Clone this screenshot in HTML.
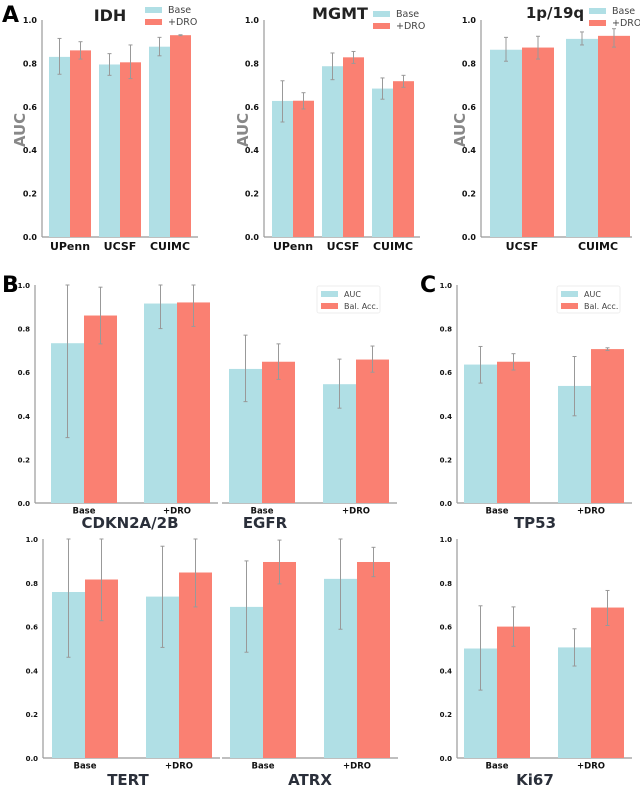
<!DOCTYPE html>
<html><head><meta charset="utf-8"><style>
body{margin:0;background:#fff}
svg{display:block;font-family:"DejaVu Sans","Liberation Sans",sans-serif}
</style></head><body>
<svg id="fig" width="640" height="788" viewBox="0 0 640 788" xmlns="http://www.w3.org/2000/svg"></svg>
<script>
// ---- Data ----
const idhCats=["UPenn","UCSF","CUIMC"];
const idhBase=[0.83,0.795,0.877], idhBaseLo=[0.75,0.745,0.835], idhBaseHi=[0.915,0.845,0.92];
const idhDro=[0.86,0.805,0.93], idhDroLo=[0.82,0.73,0.928], idhDroHi=[0.90,0.885,0.932];
const mgmtCats=["UPenn","UCSF","CUIMC"];
const mgmtBase=[0.627,0.787,0.684], mgmtBaseLo=[0.53,0.725,0.635], mgmtBaseHi=[0.72,0.848,0.733];
const mgmtDro=[0.628,0.828,0.718], mgmtDroLo=[0.59,0.80,0.69], mgmtDroHi=[0.665,0.855,0.745];
const codelCats=["UCSF","CUIMC"];
const codelBase=[0.863,0.913], codelBaseLo=[0.81,0.885], codelBaseHi=[0.92,0.945];
const codelDro=[0.873,0.927], codelDroLo=[0.82,0.875], codelDroHi=[0.925,0.96];
const bCats=["Base","+DRO"];
const cdknAuc=[0.733,0.915], cdknAucLo=[0.30,0.80], cdknAucHi=[1.0,1.0];
const cdknBal=[0.86,0.92], cdknBalLo=[0.73,0.81], cdknBalHi=[0.99,1.0];
const egfrAuc=[0.615,0.545], egfrAucLo=[0.465,0.435], egfrAucHi=[0.77,0.66];
const egfrBal=[0.648,0.658], egfrBalLo=[0.567,0.60], egfrBalHi=[0.73,0.72];
const tp53Auc=[0.635,0.537], tp53AucLo=[0.55,0.40], tp53AucHi=[0.718,0.672];
const tp53Bal=[0.648,0.706], tp53BalLo=[0.61,0.70], tp53BalHi=[0.685,0.712];
const tertAuc=[0.758,0.737], tertAucLo=[0.46,0.505], tertAucHi=[1.0,0.967];
const tertBal=[0.815,0.847], tertBalLo=[0.627,0.69], tertBalHi=[1.0,1.0];
const atrxAuc=[0.69,0.818], atrxAucLo=[0.483,0.588], atrxAucHi=[0.90,1.0];
const atrxBal=[0.895,0.895], atrxBalLo=[0.795,0.828], atrxBalHi=[0.995,0.962];
const ki67Auc=[0.50,0.505], ki67AucLo=[0.31,0.42], ki67AucHi=[0.695,0.59];
const ki67Bal=[0.60,0.687], ki67BalLo=[0.51,0.605], ki67BalHi=[0.69,0.765];
const yTicks=[0,0.2,0.4,0.6,0.8,1.0];
const yTickLabels=["0.0","0.2","0.4","0.6","0.8","1.0"];

const NS="http://www.w3.org/2000/svg";
const svg=document.getElementById('fig');
const BLUE="#b0dfe5", RED="#fa8072";
function mk(tag,attrs,parent,txt){const e=document.createElementNS(NS,tag);for(const k in attrs)e.setAttribute(k,attrs[k]);if(txt!==undefined)e.textContent=txt;(parent||svg).appendChild(e);return e;}

function panel(o){
  const g=mk('g',{});
  
  
  const y=v=>o.y0-(o.y0-o.y1)*v;
  if(o.spine){
    const s=mk('line',{x1:o.sx,x2:o.sx,y1:o.y1,y2:o.y0,stroke:'#999','stroke-width':1.2},g);
    
    yTicks.forEach((t,i)=>{
      const tl=mk('text',{x:o.sx-5,y:y(t)+3,'text-anchor':'end','font-size':o.tfs,'font-weight':'bold',fill:'#111'},g,yTickLabels[i]);
      
    });
  }
  const xa=mk('line',{x1:o.ax0,x2:o.ax1,y1:o.y0,y2:o.y0,stroke:'#999','stroke-width':1.2},g);
  
  o.cats.forEach((c,i)=>{
    const cx=o.cx[i], w=o.bw;
    [[o.s1,o.s1lo,o.s1hi,BLUE,cx-w,'bar-'+o.k1],[o.s2,o.s2lo,o.s2hi,RED,cx,'bar-'+o.k2]].forEach(([v,lo,hi,col,x,nm])=>{
      const r=mk('rect',{x:x,y:y(v[i]),width:w,height:y(0)-y(v[i]),fill:col},g);
      
      const ex=x+w/2;
      const eb=mk('g',{stroke:'#999','stroke-width':1},g);
      
      mk('line',{x1:ex,x2:ex,y1:y(lo[i]),y2:y(hi[i])},eb);
      mk('line',{x1:ex-2,x2:ex+2,y1:y(lo[i]),y2:y(lo[i])},eb);
      mk('line',{x1:ex-2,x2:ex+2,y1:y(hi[i]),y2:y(hi[i])},eb);
    });
    const t=mk('text',{x:cx,y:o.y0+o.cfs+2,'text-anchor':'middle','font-size':o.cfs,'font-weight':'bold',fill:'#111'},g,c);
    
  });
}
function txt(x,yy,s,fs,fw,fill,name,anchor,extra){const t=mk('text',Object.assign({x:x,y:yy,'font-size':fs,'font-weight':fw,fill:fill,'text-anchor':anchor||'middle'},extra||{}),svg,s);return t;}
function legend(x,y,l1,l2,box,w,name){
  const g=mk('g',{});
  if(box){mk('rect',{x:x-4,y:y-5,width:w,height:27,fill:'#fff',stroke:'#eee','stroke-width':1,rx:2},g);}
  mk('rect',{x:x,y:y,width:17,height:6,fill:BLUE},g);
  mk('rect',{x:x,y:y+12,width:17,height:6,fill:RED},g);
  const a=mk('text',{x:x+23,y:y+6,'font-size':box?8:9.5,fill:'#444'},g,l1);
  const b=mk('text',{x:x+23,y:y+18,'font-size':box?8:9.5,fill:'#444'},g,l2);
}
const A={y1:20,y0:237,bw:21,tfs:8,cfs:11,spine:true,k1:'base',k2:'dro'};
panel(Object.assign({},A,{name:'idh-chart',sx:42,ax0:42,ax1:198,cats:idhCats,cx:[70,120,170],s1:idhBase,s1lo:idhBaseLo,s1hi:idhBaseHi,s2:idhDro,s2lo:idhDroLo,s2hi:idhDroHi}));
panel(Object.assign({},A,{name:'mgmt-chart',sx:264,ax0:264,ax1:420,cats:mgmtCats,cx:[293,343,393],s1:mgmtBase,s1lo:mgmtBaseLo,s1hi:mgmtBaseHi,s2:mgmtDro,s2lo:mgmtDroLo,s2hi:mgmtDroHi}));
panel(Object.assign({},A,{name:'codel-chart',sx:481,ax0:481,ax1:632,bw:32,cats:codelCats,cx:[522,598],s1:codelBase,s1lo:codelBaseLo,s1hi:codelBaseHi,s2:codelDro,s2lo:codelDroLo,s2hi:codelDroHi}));
txt(110,21,'IDH',16,'bold','#222','idh-title');
txt(340,19,'MGMT',16,'bold','#222','mgmt-title');
txt(555,18,'1p/19q',15,'bold','#222','codel-title');
legend(145,7,'Base','+DRO',false,0,'idh-legend');
legend(373,11,'Base','+DRO',false,0,'mgmt-legend');
legend(589,8,'Base','+DRO',false,0,'codel-legend');
[20,243,460].forEach(x=>txt(x,130,'AUC',15,'bold','#888','y-axis-title','middle',{transform:'rotate(-90 '+x+' 130)',dy:'5'}));
const B={bw:33,tfs:7,cfs:8.5,k1:'auc',k2:'bal-acc'};
panel(Object.assign({},B,{name:'cdkn2a-chart',y1:285,y0:503,spine:true,sx:35,ax0:35,ax1:218,cats:bCats,cx:[84,177],s1:cdknAuc,s1lo:cdknAucLo,s1hi:cdknAucHi,s2:cdknBal,s2lo:cdknBalLo,s2hi:cdknBalHi}));
panel(Object.assign({},B,{name:'egfr-chart',y1:285,y0:503,spine:false,ax0:222,ax1:397,cats:bCats,cx:[262,356],s1:egfrAuc,s1lo:egfrAucLo,s1hi:egfrAucHi,s2:egfrBal,s2lo:egfrBalLo,s2hi:egfrBalHi}));
panel(Object.assign({},B,{name:'tp53-chart',y1:285,y0:503,spine:true,sx:457,ax0:457,ax1:632,cats:bCats,cx:[497,591],s1:tp53Auc,s1lo:tp53AucLo,s1hi:tp53AucHi,s2:tp53Bal,s2lo:tp53BalLo,s2hi:tp53BalHi}));
panel(Object.assign({},B,{name:'tert-chart',y1:539,y0:758,spine:true,sx:43,ax0:43,ax1:220,cats:bCats,cx:[85,179],s1:tertAuc,s1lo:tertAucLo,s1hi:tertAucHi,s2:tertBal,s2lo:tertBalLo,s2hi:tertBalHi}));
panel(Object.assign({},B,{name:'atrx-chart',y1:539,y0:758,spine:false,ax0:222,ax1:398,cats:bCats,cx:[263,357],s1:atrxAuc,s1lo:atrxAucLo,s1hi:atrxAucHi,s2:atrxBal,s2lo:atrxBalLo,s2hi:atrxBalHi}));
panel(Object.assign({},B,{name:'ki67-chart',y1:539,y0:758,spine:true,sx:457,ax0:457,ax1:632,cats:bCats,cx:[497,591],s1:ki67Auc,s1lo:ki67AucLo,s1hi:ki67AucHi,s2:ki67Bal,s2lo:ki67BalLo,s2hi:ki67BalHi}));
legend(321,291,'AUC','Bal. Acc.',true,63,'b-legend');
legend(561,291,'AUC','Bal. Acc.',true,63,'c-legend');
txt(130,528,'CDKN2A/2B',15,'600','#2a2f3a','cdkn2a-title');
txt(265,528,'EGFR',15,'600','#2a2f3a','egfr-title');
txt(535,528,'TP53',15,'600','#2a2f3a','tp53-title');
txt(128,785,'TERT',15,'600','#2a2f3a','tert-title');
txt(310,785,'ATRX',15,'600','#2a2f3a','atrx-title');
txt(535,785,'Ki67',15,'600','#2a2f3a','ki67-title');
txt(2,22,'A',22,'bold','#000','panel-label-a','start');
txt(2,292,'B',22,'bold','#000','panel-label-b','start');
txt(420,292,'C',22,'bold','#000','panel-label-c','start');
</script>
</body></html>
